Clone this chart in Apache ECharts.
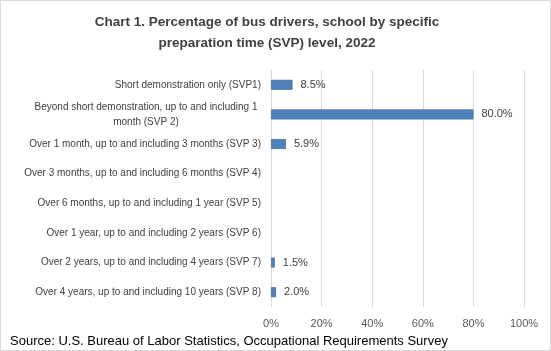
<!DOCTYPE html>
<html><head><meta charset="utf-8">
<script src="https://cdn.jsdelivr.net/npm/echarts@6/dist/echarts.min.js"></script>
<style>html,body{margin:0;padding:0;background:#fff}#c{width:551px;height:351px;box-sizing:border-box;border:1px solid #d9d9d9}</style>
</head><body><div id="c"></div>
<script>
var categories = [
  "Short demonstration only (SVP1)",
  "Beyond short demonstration, up to and including 1\nmonth (SVP 2)",
  "Over 1 month, up to and including 3 months (SVP 3)",
  "Over 3 months, up to and including 6 months (SVP 4)",
  "Over 6 months, up to and including 1 year (SVP 5)",
  "Over 1 year, up to and including 2 years (SVP 6)",
  "Over 2 years, up to and including 4 years (SVP 7)",
  "Over 4 years, up to and including 10 years (SVP 8)"
];
var values = [8.5, 80.0, 5.9, 0, 0, 0, 1.5, 2.0];
var xTicks = [0, 20, 40, 60, 80, 100];
var titleText = "Chart 1. Percentage of bus drivers, school by specific\npreparation time (SVP) level, 2022";
var sourceText = "Source: U.S. Bureau of Labor Statistics, Occupational Requirements Survey";

var FONT = "Liberation Sans";
var chart = echarts.init(document.getElementById('c'));
chart.setOption({
  animation: false,
  textStyle: {fontFamily: FONT},
  title: [{
    text: titleText, left: 261, top: 6, textAlign: 'center',
    textStyle: {fontFamily: FONT, fontSize: 13.5, fontWeight: 'bold', color: '#404040', lineHeight: 21}
  }, {
    text: sourceText, left: 4, top: 327,
    textStyle: {fontFamily: FONT, fontSize: 13, fontWeight: 'normal', color: '#000', lineHeight: 16}
  }],
  grid: {left: 270, right: 26, top: 69, bottom: 43, containLabel: false},
  xAxis: {
    type: 'value', min: 0, max: 100, interval: 20,
    axisLine: {show: false}, axisTick: {show: false},
    splitLine: {lineStyle: {color: '#d9d9d9', width: 1}},
    axisLabel: {formatter: function(v){return xTicks.indexOf(v) >= 0 ? v + '%' : '';}, color: '#595959', fontSize: 11, margin: 11, fontFamily: FONT}
  },
  yAxis: {
    type: 'category', inverse: true, data: categories,
    axisLine: {show: false}, axisTick: {show: false},
    axisLabel: {
      color: '#404040', fontSize: 10, margin: 10, fontFamily: FONT, lineHeight: 15,
      formatter: function(v){
        var parts = v.split('\n');
        if (parts.length === 1) return v;
        return parts.map(function(p){return '{c|' + p + '}';}).join('\n');
      },
      rich: {c: {width: 230, align: 'center', fontSize: 10, color: '#404040', fontFamily: FONT, lineHeight: 15}}
    }
  },
  series: [{
    type: 'bar', barWidth: 10,
    data: values.map(function(v){ return v ? v : {value: v, itemStyle: {borderWidth: 0}}; }),
    itemStyle: {color: '#4f81bd', borderColor: '#41719c', borderWidth: 0.8},
    label: {show: true, position: 'right', distance: 8, color: '#404040', fontSize: 11, fontFamily: FONT,
      formatter: function(p){return p.value ? p.value.toFixed(1) + '%' : '';}}
  }]
});
</script></body></html>
